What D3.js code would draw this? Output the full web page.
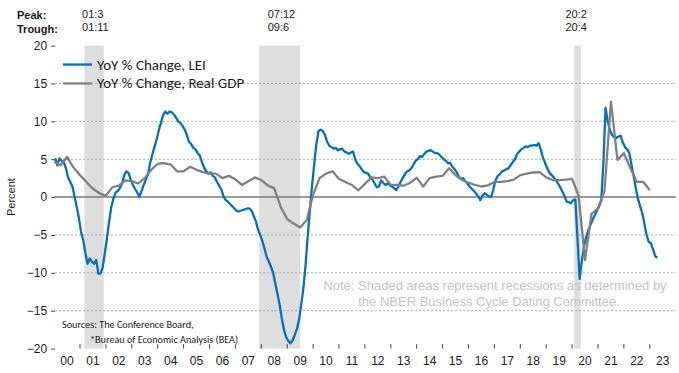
<!DOCTYPE html>
<html>
<head>
<meta charset="utf-8">
<script src="https://cdn.jsdelivr.net/npm/d3@7"></script>
<style>
  body { margin: 0; background: #fff; }
  svg { display: block; }
  text { font-family: "Liberation Sans", Arial, sans-serif; }
  .cal { font-family: Carlito, Lato, sans-serif; }
</style>
</head>
<body>
<script>
// LEI, YoY % change, monthly from Jan 2000 (one row per year)
var leiMonthly = [
  5.1, 4.2, 5.1, 4.8, 4.6, 3.8, 2.6, 2.0, 1.4, 0.0, -1.3, -2.8,
  -4.6, -5.7, -7.4, -8.8, -8.1, -8.5, -8.8, -8.3, -10.1, -10.1, -9.3, -7.4,
  -5.4, -3.2, -1.3, -0.2, 0.6, 0.8, 1.2, 1.8, 2.9, 3.4, 3.2, 2.3,
  1.6, 1.1, 0.6, 0.05, 0.8, 1.6, 2.3, 3.0, 4.5, 5.6, 6.6, 7.6,
  8.8, 9.8, 10.8, 11.3, 11.0, 11.3, 11.2, 10.9, 10.5, 10.0, 9.8, 9.4,
  8.9, 8.2, 7.3, 7.0, 6.5, 6.3, 5.8, 5.5, 4.6, 3.9, 3.4, 3.1,
  3.3, 2.8, 2.6, 2.0, 1.5, 1.0, 0.1, -0.4, -0.6, -0.9, -1.2, -1.5,
  -1.8, -1.9, -1.8, -1.7, -1.6, -1.5, -1.5, -1.8, -2.5, -3.2, -4.3, -5.0,
  -5.8, -6.8, -7.9, -8.5, -9.2, -10.0, -11.4, -12.8, -14.2, -16.0, -17.5, -18.5,
  -19.0, -19.3, -18.9, -18.2, -17.4, -16.2, -14.2, -12.0, -9.0, -5.2, -1.8, 1.5,
  4.3, 7.0, 8.7, 8.9, 8.7, 8.2, 7.3, 6.8, 6.6, 6.4, 6.5, 6.2,
  6.3, 6.4, 6.0, 5.9, 5.7, 5.9, 6.0, 5.0, 4.4, 4.1, 3.7, 3.3,
  3.2, 3.1, 2.6, 2.3, 1.8, 1.3, 1.4, 2.2, 1.9, 1.6, 1.8, 1.6,
  1.4, 1.2, 0.9, 1.4, 2.0, 2.5, 3.0, 3.4, 3.5, 3.8, 4.3, 4.8,
  5.0, 5.4, 5.3, 5.7, 6.0, 6.1, 6.2, 6.0, 5.8, 5.8, 5.6, 5.3,
  5.0, 4.8, 4.5, 4.5, 4.0, 3.7, 3.3, 2.7, 2.4, 2.5, 2.1, 1.8,
  1.4, 1.1, 0.8, 0.5, 0.1, -0.4, 0.2, 0.5, 0.3, 0.1, 0.0, 1.0,
  2.2, 2.8, 3.0, 3.4, 3.5, 3.7, 3.8, 4.2, 4.6, 5.0, 5.7, 6.0,
  6.3, 6.5, 6.7, 6.6, 6.8, 6.8, 6.9, 6.8, 7.1, 6.3, 5.2, 4.5,
  3.8, 3.2, 2.9, 2.6, 2.2, 1.8, 1.3, 0.7, 0.1, -0.6, -0.7, -0.8,
  -0.4, -0.3, -5.5, -10.8, -8.5, -6.5, -5.3, -4.4, -3.7, -3.0, -2.4, -1.8,
  -1.2, -0.5, 4.5, 11.8, 10.0, 8.9, 8.2, 7.9, 7.8, 8.0, 8.1, 7.2,
  6.6, 6.3, 5.8, 4.3, 2.8, 1.2, -0.2, -1.2, -2.1, -3.5, -5.0, -5.9,
  -6.1, -6.9, -7.8, -8.0
];

// Real GDP, YoY % change, quarterly from 1999 Q4 to 2022 Q4
var gdpQuarterly = [
  4.7, 4.2, 5.3, 3.9,
  2.9, 2.0, 1.1, 0.5, 0.2,
  1.3, 1.5, 2.2, 2.1,
  1.8, 2.5, 3.6, 4.4,
  4.5, 4.3, 3.4, 3.4,
  4.0, 3.6, 3.3, 3.1,
  3.1, 2.5, 2.8, 2.35,
  1.6, 2.1, 2.6, 2.25,
  1.55, 1.15, -1.3, -2.9,
  -3.5, -4.0, -3.05, 0.3,
  2.5, 3.1, 3.4, 2.4,
  2.0, 1.6, 0.9, 1.75,
  2.6, 2.5, 2.7, 1.6,
  1.6, 1.5, 1.9, 2.55,
  1.4, 2.5, 2.7, 2.8,
  3.8, 2.9, 2.25, 1.9,
  1.6, 1.4, 1.55, 2.0,
  2.0, 2.1, 2.3, 2.9,
  3.1, 3.25, 3.3, 2.6,
  2.25, 2.25, 2.3, 2.4,
  0.2, -8.3, -2.2, -1.5,
  0.8, 12.6, 4.9, 5.8,
  3.8, 2.0, 2.0, 0.9
];

// NBER recessions: [year, month] of peak and trough
var recPeaks   = [[2001, 3], [2007, 12], [2020, 2]];
var recTroughs = [[2001, 11], [2009, 6], [2020, 4]];
var peakLabels   = ["01:3", "07:12", "20:2"];
var troughLabels = ["01:11", "09:6", "20:4"];

var yTicks = [-20, -15, -10, -5, 0, 5, 10, 15, 20];
var yearLabels = ["00","01","02","03","04","05","06","07","08","09","10","11",
                  "12","13","14","15","16","17","18","19","20","21","22","23"];

var seriesNames = ["YoY % Change, LEI", "YoY % Change, Real GDP"];
var seriesColors = ["#0070c0", "#808080"];

var width = 679, height = 373;

var svg = d3.select("body").append("svg")
    .attr("width", width)
    .attr("height", height);

var x = d3.scaleLinear().domain([2000, 2024]).range([54.1, 675.7]);
var y = d3.scaleLinear().domain([-20, 20]).range([348.6, 45.6]);

// recession shading
var recs = recPeaks.map(function(p, i) {
  return {
    start: p[0] + (p[1] - 1) / 12,
    end: recTroughs[i][0] + recTroughs[i][1] / 12,
    peak: peakLabels[i],
    trough: troughLabels[i]
  };
});

svg.selectAll(".rec")
    .data(recs)
    .enter().append("rect")
    .attr("class", "rec")
    .attr("x", function(d) { return x(d.start); })
    .attr("width", function(d) { return x(d.end) - x(d.start); })
    .attr("y", y(20))
    .attr("height", y(-20) - y(20))
    .attr("fill", "#dedede");

// gridlines
svg.selectAll(".grid")
    .data(yTicks.filter(function(v) { return v !== 0 && v !== 20 && v !== -20; }))
    .enter().append("line")
    .attr("class", "grid")
    .attr("x1", x(2000) + 1).attr("x2", x(2024))
    .attr("y1", function(d) { return y(d); })
    .attr("y2", function(d) { return y(d); })
    .attr("stroke", "#a6a6a6")
    .attr("stroke-width", 1)
    .attr("stroke-dasharray", "2,2");

// y axis
var yAxis = d3.axisLeft(y).tickValues(yTicks).tickSize(4).tickPadding(4);
var gy = svg.append("g")
    .attr("transform", "translate(" + (x(2000) + 1) + ",0)")
    .call(yAxis);
gy.select(".domain").remove();
gy.selectAll(".tick line").attr("stroke", "#404040");
gy.selectAll(".tick text")
    .attr("font-family", "Liberation Sans, Arial, sans-serif")
    .attr("font-size", 12)
    .attr("fill", "#1a1a1a");

// x axis: ticks at year boundaries, labels at mid-year
var xTicks = d3.range(2001, 2024);
svg.selectAll(".xtick")
    .data(xTicks)
    .enter().append("line")
    .attr("class", "xtick")
    .attr("x1", function(d) { return x(d); })
    .attr("x2", function(d) { return x(d); })
    .attr("y1", y(-20) - 4.5)
    .attr("y2", y(-20))
    .attr("stroke", "#404040");

svg.selectAll(".xlab")
    .data(yearLabels)
    .enter().append("text")
    .attr("class", "xlab")
    .attr("x", function(d, i) { return x(2000 + i + 0.5); })
    .attr("y", 365)
    .attr("text-anchor", "middle")
    .attr("font-size", 12)
    .attr("fill", "#1a1a1a")
    .text(function(d) { return d; });

svg.append("text")
    .attr("transform", "translate(15," + y(0) + ") rotate(-90)")
    .attr("text-anchor", "middle")
    .attr("font-size", 11)
    .attr("fill", "#1a1a1a")
    .text("Percent");

// zero line
svg.append("line")
    .attr("x1", x(2000)).attr("x2", x(2024))
    .attr("y1", y(0)).attr("y2", y(0))
    .attr("stroke", "#7a7a7a")
    .attr("stroke-width", 1.5);

// series
var leiPts = leiMonthly.map(function(v, i) { return [2000 + (i + 0.5) / 12, v]; });
var gdpPts = gdpQuarterly.map(function(v, i) { return [2000 + i / 4, v]; });

var line = d3.line()
    .x(function(d) { return x(d[0]); })
    .y(function(d) { return y(d[1]); });

svg.append("path")
    .datum(leiPts)
    .attr("d", line)
    .attr("fill", "none")
    .attr("stroke", seriesColors[0])
    .attr("stroke-width", 2.3)
    .attr("stroke-linejoin", "round");

svg.append("path")
    .datum(gdpPts)
    .attr("d", line)
    .attr("fill", "none")
    .attr("stroke", seriesColors[1])
    .attr("stroke-width", 2.3)
    .attr("stroke-linejoin", "round");

// legend
var leg = svg.selectAll(".leg")
    .data(seriesNames)
    .enter().append("g")
    .attr("class", "leg")
    .attr("transform", function(d, i) { return "translate(63," + y(17.5 - i * 2.5) + ")"; });
leg.append("line")
    .attr("x1", 0).attr("x2", 29)
    .attr("stroke", function(d, i) { return seriesColors[i]; })
    .attr("stroke-width", 2.3);
leg.append("text")
    .attr("class", "cal")
    .attr("x", 34)
    .attr("y", 5)
    .attr("font-size", 15)
    .attr("fill", "#1a1a1a")
    .text(function(d) { return d; });

// peak / trough labels
svg.append("text").attr("x", 17).attr("y", 19)
    .attr("font-size", 11).attr("font-weight", "bold").attr("fill", "#1a1a1a")
    .text("Peak:");
svg.append("text").attr("x", 17).attr("y", 33)
    .attr("font-size", 11).attr("font-weight", "bold").attr("fill", "#1a1a1a")
    .text("Trough:");

var rl = svg.selectAll(".reclab")
    .data(recs)
    .enter().append("g")
    .attr("class", "reclab")
    .attr("transform", function(d) { return "translate(" + (x((d.start + d.end) / 2) - 12) + ",0)"; });
rl.append("text").attr("y", 17.5).attr("font-size", 11).attr("fill", "#1a1a1a")
    .text(function(d) { return d.peak; });
rl.append("text").attr("y", 31).attr("font-size", 11).attr("fill", "#1a1a1a")
    .text(function(d) { return d.trough; });

// note
var note = svg.append("text")
    .attr("text-anchor", "middle")
    .attr("font-size", 13)
    .attr("fill", "#c4c4c4");
note.append("tspan").attr("x", 495).attr("y", 290)
    .text("Note: Shaded areas represent recessions as determined by");
note.append("tspan").attr("x", 489).attr("y", 306)
    .text("the NBER Business Cycle Dating Committee.");

// sources
svg.append("text").attr("class", "cal").attr("x", 62).attr("y", 328)
    .attr("font-size", 10.2).attr("fill", "#1a1a1a")
    .text("Sources: The Conference Board,");
svg.append("text").attr("class", "cal").attr("x", 90).attr("y", 343)
    .attr("font-size", 10.2).attr("fill", "#1a1a1a")
    .text("*Bureau of Economic Analysis (BEA)");
</script>
</body>
</html>
